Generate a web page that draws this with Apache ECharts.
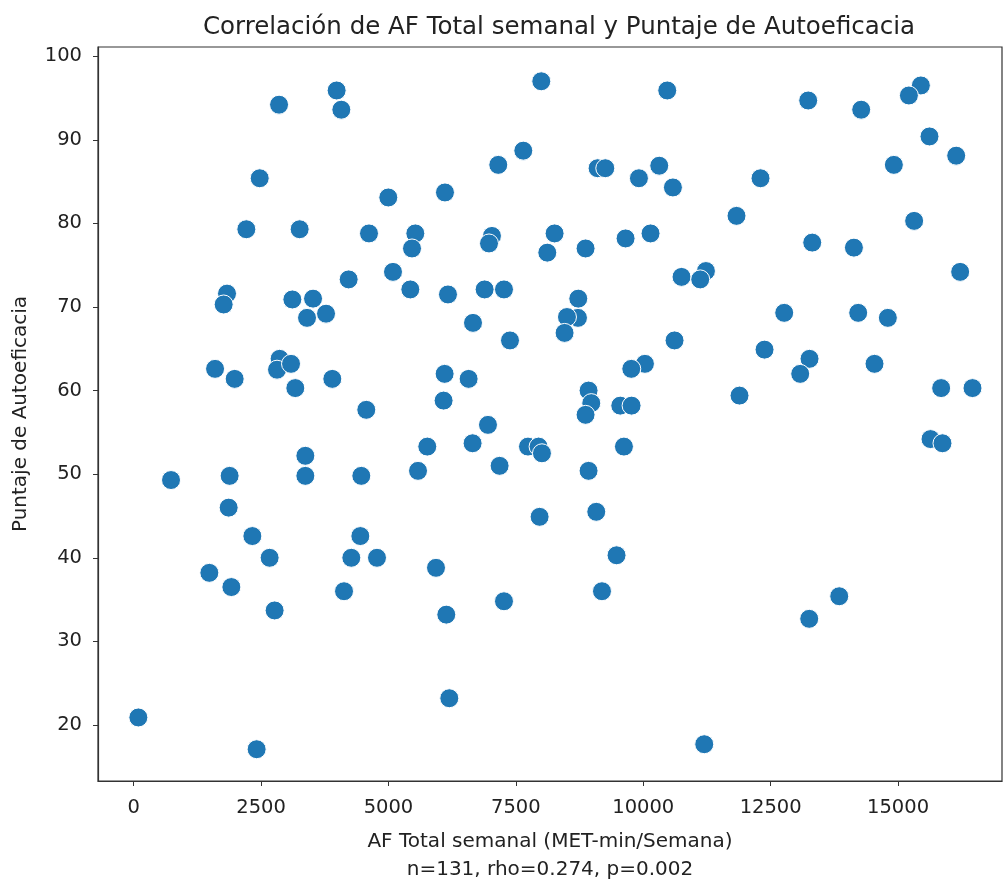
<!DOCTYPE html>
<html>
<head>
<meta charset="utf-8">
<title>Correlación AF / Autoeficacia</title>
<script src="https://cdn.jsdelivr.net/npm/echarts@6/dist/echarts.min.js"></script>
<style>
  html, body { margin: 0; padding: 0; background: #fff; }
  #main { width: 1004px; height: 884px; }
</style>
</head>
<body>
<div id="main"></div>
<script>
// AF Total semanal (MET-min/Semana)
var afTotal = [
  2853, 3983, 4075, 2473, 4997, 2211, 3257, 4618, 5089, 4219,
  7999, 10471, 7646, 7155, 9104, 9255, 9915, 10314, 10582, 6109,
  5527, 5462, 7031, 6973, 8260, 8117, 8868, 9653, 10143, 10751,
  13237, 14277, 15448, 15213, 15617, 16141, 14918, 12301, 11830, 13316,
  14134, 15316, 16219, 11230, 11118,
  1832, 1766, 3114, 3520, 3775, 3402, 1597, 1982, 2864, 2813,
  3088, 3172, 3898, 4565, 3369, 3369, 1883, 733, 4467, 1864,
  5429, 6168, 6887, 7267, 8725, 8719, 8503, 8456, 6659, 7385,
  10614, 6102, 6573, 6082, 10033, 9765, 8927, 8980, 8868, 9549,
  9771, 6953, 6651, 5762, 5580, 7738, 7946, 8012, 7181, 9621,
  8927, 7966, 9078,
  12766, 14218, 14800, 12380, 13263, 13080, 14538, 11889, 15846, 16461,
  15637, 15872,
  2329, 2668, 1485, 1917, 2766, 4448, 4271, 4775, 4128, 92, 2413,
  5933, 6135, 7267, 9476, 9190, 6194,
  11197, 13257, 13846
];
// Puntaje de Autoeficacia
var autoeficacia = [
  94.2, 95.9, 93.6, 85.4, 83.1, 79.3, 79.3, 78.8, 74.2, 73.3,
  97.0, 95.9, 88.7, 87.0, 86.6, 86.6, 85.4, 86.9, 84.3, 83.7,
  78.8, 77.0, 78.5, 77.6, 78.8, 76.5, 77.0, 78.2, 78.8, 73.6,
  94.7, 93.6, 96.5, 95.3, 90.4, 88.1, 87.0, 85.4, 80.9, 77.7,
  77.1, 80.3, 74.2, 74.3, 73.3,
  71.6, 70.3, 70.9, 71.0, 69.2, 68.7, 62.6, 61.4, 63.8, 62.5,
  63.2, 60.3, 61.4, 57.7, 52.2, 49.8, 49.8, 49.3, 49.8, 46.0,
  72.1, 71.5, 72.1, 72.1, 71.0, 68.7, 68.8, 66.9, 68.1, 66.0,
  66.0, 62.0, 61.4, 58.8, 63.2, 62.6, 60.0, 58.5, 57.1, 58.2,
  58.2, 55.9, 53.7, 53.3, 50.4, 53.3, 53.3, 52.5, 51.0, 53.3,
  50.4, 44.9, 45.5,
  69.3, 69.3, 68.7, 64.9, 63.8, 62.0, 63.2, 59.4, 60.3, 60.3,
  54.2, 53.7,
  42.6, 40.0, 38.2, 36.5, 33.7, 42.6, 40.0, 40.0, 36.0, 20.9, 17.1,
  38.8, 33.2, 34.8, 40.3, 36.0, 23.2,
  17.7, 32.7, 35.4
];
var xTicks = [0, 2500, 5000, 7500, 10000, 12500, 15000];
var yTicks = [20, 30, 40, 50, 60, 70, 80, 90, 100];

var puntos = afTotal.map(function (v, i) { return [v, autoeficacia[i]]; });

var myChart = echarts.init(document.getElementById('main'));
var fuente = 'DejaVu Sans';
var option = {
    backgroundColor: '#fff',
    animation: false,
    textStyle: { fontFamily: fuente },
    title: {
        text: 'Correlación de AF Total semanal y Puntaje de Autoeficacia',
        left: 554,
        textAlign: 'center',
        top: 10,
        textStyle: { fontFamily: fuente, fontSize: 24.5, fontWeight: 'normal', color: '#222' }
    },
    grid: {
        left: 98,
        top: 47,
        right: 2,
        bottom: 103,
        show: true,
        borderColor: '#333',
        borderWidth: 1.2,
        containLabel: false,
        outerBoundsMode: 'none'
    },
    xAxis: {
        type: 'value',
        min: -700,
        max: 17040,
        name: 'AF Total semanal (MET-min/Semana)\nn=131, rho=0.274, p=0.002',
        nameLocation: 'middle',
        nameGap: 47,
        nameTextStyle: { fontFamily: fuente, fontSize: 20, color: '#222', lineHeight: 28 },
        splitLine: { show: false },
        axisLine: { show: true, onZero: false, lineStyle: { color: '#333', width: 1.2 } },
        axisTick: { show: true, customValues: xTicks, length: 5, lineStyle: { color: '#333' } },
        axisLabel: {
            customValues: xTicks, fontSize: 19.5, color: '#222', margin: 17,
            formatter: function (v) { return String(v); }
        }
    },
    yAxis: {
        type: 'value',
        min: 13.3,
        max: 101.1,
        name: 'Puntaje de Autoeficacia',
        nameLocation: 'middle',
        nameGap: 67,
        nameTextStyle: { fontFamily: fuente, fontSize: 20, color: '#222' },
        splitLine: { show: false },
        axisLine: { show: true, onZero: false, lineStyle: { color: '#333', width: 1.2 } },
        axisTick: { show: true, customValues: yTicks, length: 5, lineStyle: { color: '#333' } },
        axisLabel: { customValues: yTicks, fontSize: 19.5, color: '#222', margin: 16 }
    },
    series: [{
        type: 'scatter',
        data: puntos,
        symbolSize: 19,
        itemStyle: { color: '#1f77b4', borderColor: '#fff', borderWidth: 1, opacity: 1 }
    }]
};
myChart.setOption(option);
</script>
</body>
</html>
